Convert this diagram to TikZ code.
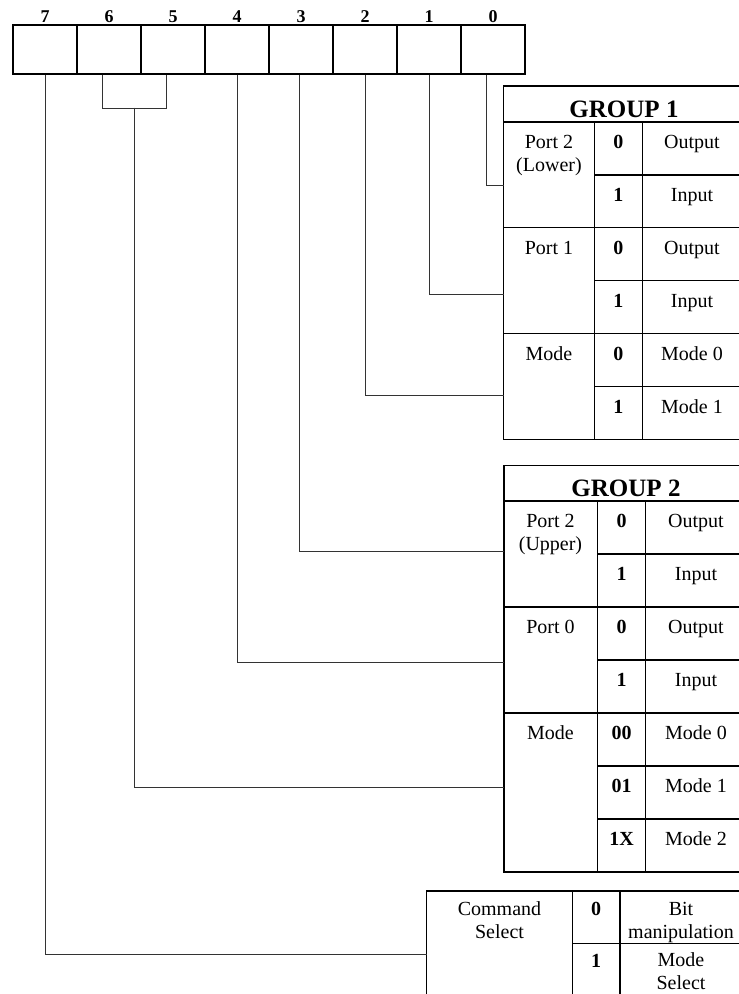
\documentclass[tikz,border=0pt]{standalone}
\usepackage{fontspec}
\setmainfont{Liberation Serif}
\begin{document}
\begin{tikzpicture}[x=1pt,y=-1pt,
  reg/.style={draw, line width=1.4pt, minimum width=64pt, minimum height=49pt, inner sep=0pt},
  tab/.style={line width=1.3pt},
  wire/.style={line width=1pt, draw=black!80},
  bitnum/.style={font=\fontsize{18}{20}\selectfont\bfseries, anchor=base, inner sep=0pt},
  txt/.style={font=\fontsize{20}{23}\selectfont, anchor=base, align=center, inner sep=0pt},
  bnum/.style={font=\fontsize{20}{23}\selectfont\bfseries, anchor=base, inner sep=0pt},
  head/.style={font=\fontsize{25}{28}\selectfont\bfseries, anchor=base, inner sep=0pt}]
\useasboundingbox (0,0) rectangle (739,994);

% register
\foreach \b in {0,...,7}{
  \node[reg] (r\b) at ({45+64*(7-\b)},49.5) {};
  \node[bitnum] (n\b) at ({45+64*(7-\b)},22) {\b};
}
% bracket for bits 6-5
\draw[wire] ([xshift=-7pt]r6.south) -- ++(0,33.7) -| ([xshift=-7pt]r5.south);
\coordinate (m65) at (134,107.7);

% ---------- GROUP 1 ----------
\draw[tab] (739,86) -- (503.5,86) -- (503.5,439.4) -- (739,439.4);
\draw[tab] (503.5,122) -- (739,122);
\draw[tab] (503.5,227.8) -- (739,227.8);
\draw[tab] (503.5,333.6) -- (739,333.6);
\draw[tab] (594.3,174.9) -- (739,174.9);
\draw[tab] (594.3,280.7) -- (739,280.7);
\draw[tab] (594.3,386.5) -- (739,386.5);
\draw[tab] (594.3,122) -- (594.3,439.4);
\draw[tab] (642.3,122) -- (642.3,439.4);
\node[head] (g1h) at (624,117.3) {GROUP 1};
\node[txt] (g1p2) at (549,171.6) {Port 2\\(Lower)};
\node[bnum] (g1a0) at (618.3,148.6) {0};
\node[txt] (g1a0t) at (692,148.6) {Output};
\node[bnum] (g1a1) at (618.3,201.5) {1};
\node[txt] (g1a1t) at (692,201.5) {Input};
\node[txt] (g1p1) at (549,254.4) {Port 1};
\node[bnum] (g1b0) at (618.3,254.4) {0};
\node[txt] (g1b0t) at (692,254.4) {Output};
\node[bnum] (g1b1) at (618.3,307.3) {1};
\node[txt] (g1b1t) at (692,307.3) {Input};
\node[txt] (g1m) at (549,360.2) {Mode};
\node[bnum] (g1c0) at (618.3,360.2) {0};
\node[txt] (g1c0t) at (692,360.2) {Mode 0};
\node[bnum] (g1c1) at (618.3,413.1) {1};
\node[txt] (g1c1t) at (692,413.1) {Mode 1};
\coordinate (g1ea) at (503.5,185);
\coordinate (g1eb) at (503.5,294.3);
\coordinate (g1ec) at (503.5,395.3);

% ---------- GROUP 2 ----------
\draw[tab] (739,465.7) -- (504,465.7) -- (504,872) -- (739,872);
\draw[tab] (504,501) -- (739,501);
\draw[tab] (504,607) -- (739,607);
\draw[tab] (504,713) -- (739,713);
\draw[tab] (597.3,554) -- (739,554);
\draw[tab] (597.3,660) -- (739,660);
\draw[tab] (597.3,766) -- (739,766);
\draw[tab] (597.3,819) -- (739,819);
\draw[tab] (597.3,501) -- (597.3,872);
\draw[tab] (645.7,501) -- (645.7,872);
\node[head] (g2h) at (626,496.5) {GROUP 2};
\node[txt] (g2p2) at (550.5,550.6) {Port 2\\(Upper)};
\node[bnum] (g2a0) at (621.5,527.6) {0};
\node[txt] (g2a0t) at (696,527.6) {Output};
\node[bnum] (g2a1) at (621.5,580.6) {1};
\node[txt] (g2a1t) at (696,580.6) {Input};
\node[txt] (g2p0) at (550.5,633.6) {Port 0};
\node[bnum] (g2b0) at (621.5,633.6) {0};
\node[txt] (g2b0t) at (696,633.6) {Output};
\node[bnum] (g2b1) at (621.5,686.6) {1};
\node[txt] (g2b1t) at (696,686.6) {Input};
\node[txt] (g2m) at (550.5,739.6) {Mode};
\node[bnum] (g2c0) at (621.5,739.6) {00};
\node[txt] (g2c0t) at (696,739.6) {Mode 0};
\node[bnum] (g2c1) at (621.5,792.6) {01};
\node[txt] (g2c1t) at (696,792.6) {Mode 1};
\node[bnum] (g2c2) at (621.5,845.6) {1X};
\node[txt] (g2c2t) at (696,845.6) {Mode 2};
\coordinate (g2ea) at (504,551);
\coordinate (g2eb) at (504,662.3);
\coordinate (g2ec) at (504,787.7);

% ---------- Command select ----------
\draw[tab] (739,891) -- (426.7,891) -- (426.7,994);
\draw[tab] (572.3,891) -- (572.3,994);
\draw[tab] (620,891) -- (620,994);
\draw[tab] (572.3,943.3) -- (739,943.3);
\node[txt] (cs) at (499.5,938.6) {Command\\Select};
\node[bnum] (cs0) at (596,915.6) {0};
\node[txt] (cs0t) at (681,938.6) {Bit\\manipulation};
\node[bnum] (cs1) at (596,967.9) {1};
\node[txt] (cs1t) at (681,989.9) {Mode\\Select};
\coordinate (cse) at (426.7,954);

% ---------- connectors ----------
\draw[wire] ([xshift=-7pt]r0.south) |- (g1ea);
\draw[wire] (r1.south) |- (g1eb);
\draw[wire] (r2.south) |- (g1ec);
\draw[wire] ([xshift=-2pt]r3.south) |- (g2ea);
\draw[wire] (r4.south) |- (g2eb);
\draw[wire] (m65) |- (g2ec);
\draw[wire] (r7.south) |- (cse);
\end{tikzpicture}
\end{document}
